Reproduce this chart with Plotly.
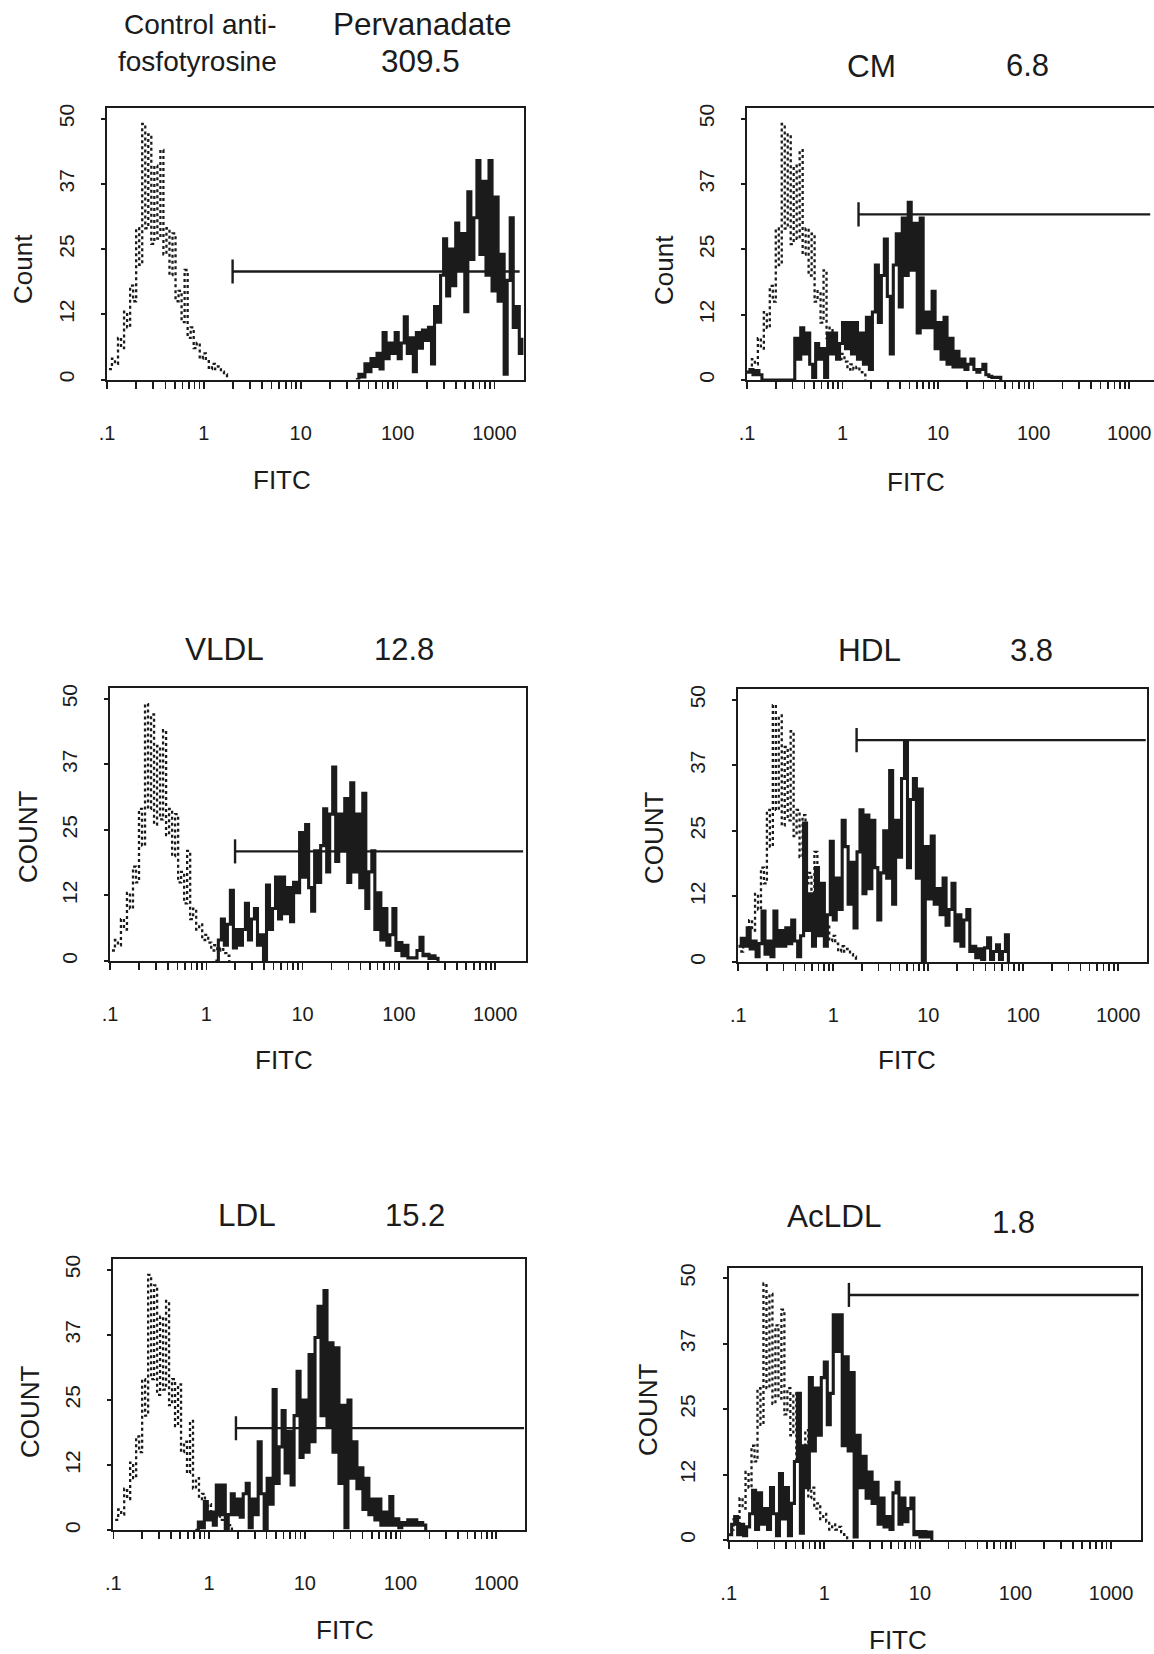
import plotly.graph_objects as go

W, H = 1154, 1654
CH = 32  # histogram channels per decade (log FITC axis)
FONT = "Liberation Sans, Arial, Helvetica, sans-serif"
INK = "#1b1b1b"

# ------------------------------------------------------------------ data
title_left = [["Control anti-", "fosfotyrosine"], ["CM"], ["VLDL"], ["HDL"], ["LDL"], ["AcLDL"]]
title_right = [["Pervanadate", "309.5"], ["6.8"], ["12.8"], ["3.8"], ["15.2"], ["1.8"]]
y_titles = ["Count", "Count", "COUNT", "COUNT", "COUNT", "COUNT"]
x_title = "FITC"

x_tick_labels = [".1", "1", "10", "100", "1000"]
y_tick_values = [0, 12.5, 25, 37.5, 50]
y_tick_labels = ["0", "12", "25", "37", "50"]

# control (dotted) histogram: first channel at 10**ctrl_start, CH channels per decade
ctrl_start = -0.98
ctrl_counts = [2, 4, 3, 8, 6, 13, 10, 18, 15, 29, 22, 49, 29, 47, 26, 41, 27, 44, 24, 29,
               20, 28, 15, 17, 11, 21, 8, 10, 6, 7, 4, 5, 3.5, 2, 3, 2, 2.5, 1.5, 1, 0]

# sample (solid) histograms
p1_start = 1.569   # Pervanadate
p1_counts = [0, 1, 0.5, 3, 1.5, 4, 2.5, 5, 2, 9, 4, 7, 5, 9, 4, 7, 12, 5, 8, 1.5, 9, 6, 9.5, 7.5,
             10, 3, 14, 11, 20, 27, 16, 25, 18, 30, 21, 28, 13, 36, 23, 31, 42, 24, 38, 20, 42,
             17, 35, 15, 24, 1, 19, 31, 10, 14, 5, 8]
p2_start = -1.0    # CM
p2_counts = [1.5, 2, 1, 1.8, 1, 0, 0, 0, 0, 0, 0, 0, 0, 0, 0, 0, 8, 4, 10, 5, 9, 3, 0.5, 7, 4, 6,
             0.5, 9, 5, 9, 4, 7, 11, 6, 11, 5, 11, 4, 9, 3, 12, 2, 13, 22, 11, 20, 27, 16, 5, 22,
             28, 14, 31, 20, 34, 21, 30, 9, 31, 10, 13, 10, 17, 6, 11, 4, 12, 3, 8, 2.5, 5.5, 2.5,
             4, 2, 3, 4, 2, 1.5, 2, 3, 1, 0.7, 0.5, 0.5, 0.5, 0]
p3_start = 0.094   # VLDL
p3_counts = [0, 4, 8, 3, 7, 13.5, 2.5, 6, 3, 6, 11, 4, 8, 10, 3, 5, 0, 14.5, 6, 10, 16, 8, 16, 9,
             14, 7.5, 15, 13, 24.5, 16, 26, 14, 9.5, 21, 15, 22, 29, 17, 28, 37, 19, 28, 21, 31,
             15, 34, 17, 28, 14, 32, 10, 17, 21, 6, 13, 4, 10, 3, 5, 10, 2, 3.5, 1, 3, 0.6, 0.6,
             0.6, 2, 4.5, 1, 1.3, 0.5, 1, 0.5, 0]
p4_start = -1.0    # HDL
p4_counts = [3, 4.5, 3, 6.5, 2.5, 4, 1, 3.5, 9.7, 1.5, 4, 1, 9.7, 3, 6, 3, 6.5, 3.5, 8, 4, 1, 5,
             26.5, 6, 13, 3, 18, 5, 15, 3, 9, 23, 8, 16, 10, 27, 22, 11, 19, 6.5, 21, 29, 13, 28,
             14, 27, 18, 8, 17, 25, 16, 36.5, 11, 27, 20, 35, 42, 18, 31, 35, 16, 33, 0, 22, 12,
             24, 11, 14, 9, 16, 7, 10, 15, 4, 9, 3, 8, 10, 2, 3, 0.8, 2.5, 0.5, 2.7, 4.6, 0.5, 2,
             3.3, 0.5, 2, 5.2, 0]
p5_start = -0.143  # LDL
p5_counts = [0, 1.6, 0.5, 5.5, 2, 3.5, 1, 8.7, 3, 8.7, 0, 3, 7, 3, 6, 2.5, 7, 9, 0.5, 6, 3, 17, 7,
             0, 10, 5, 27, 9, 16, 23, 11, 19, 8.7, 22, 30.5, 14, 25, 15, 33.7, 17, 37, 43, 22, 46,
             20, 36, 15, 35, 9, 24, 0.5, 25, 10, 17, 8, 12, 4, 10, 3, 6, 2, 6, 1, 3.5, 1, 6.5, 1,
             2.2, 0.5, 1.5, 1, 2, 1, 2, 1, 1.5, 1, 0]
p6_start = -1.0    # AcLDL
p6_counts = [1, 3, 4.5, 1, 3, 0.8, 2.5, 5, 9.5, 2, 9, 3, 6, 2, 10, 5, 0.8, 12.7, 4, 10, 0.8, 7, 15,
             28, 1.3, 18, 10, 31, 17, 29, 20, 31, 34, 22, 28, 43, 36, 43, 18, 35, 17, 32, 0.6, 20,
             10, 16, 8, 13, 7, 11, 3, 8, 2.5, 4.5, 2, 9, 11, 3, 8, 3.5, 6, 8, 1, 1.6, 0.6, 1.6,
             0.6, 1.5, 0]

sample_starts = [p1_start, p2_start, p3_start, p4_start, p5_start, p6_start]
sample_counts = [p1_counts, p2_counts, p3_counts, p4_counts, p5_counts, p6_counts]

# positive-region marker (gate): start, end (FITC), height (count)
gate_start = [1.98, 1.47, 1.99, 1.76, 1.91, 1.81]
gate_end = [1820, 1660, 1950, 1950, 1950, 1950]
gate_count = [20.7, 31.7, 20.9, 42.3, 19.6, 46.8]

# ------------------------------------------------------------------ layout geometry (pixels)
# plot boxes: left, right, top, bottom
BOXES = [(107.0, 523.5, 108.3, 379.5),
         (747.0, 1154.0, 108.3, 380.0),
         (110.0, 526.0, 688.3, 961.0),
         (738.3, 1146.7, 689.3, 962.0),
         (113.3, 525.0, 1259.3, 1530.3),
         (728.7, 1140.7, 1267.7, 1540.0)]
X_UPPER = [3.3, 3.26, 3.32, 3.3, 3.3, 3.31]
Y_UPPER = 52

LEFT_TITLE_POS = [[(200, 24), (197, 61)], [(871, 66)], [(224, 649)], [(869, 650)], [(247, 1215)], [(834, 1216)]]
RIGHT_TITLE_POS = [[(422, 24), (421, 61)], [(1027, 66)], [(404, 649)], [(1031, 650)], [(415, 1215)], [(1013, 1222)]]
LEFT_TITLE_SIZE = [28, 31.5, 31.5, 31.5, 31.5, 31.5]
RIGHT_TITLE_SIZE = [31.5, 31, 31, 31, 31, 31]
FITC_POS = [(282, 480), (916, 482), (284, 1060), (907, 1060), (345, 1630), (898, 1640)]
YT_POS = [(23, 269), (664, 270), (28, 837), (654, 838), (30, 1412), (648, 1410)]

# ------------------------------------------------------------------ figure
fig = go.Figure()

x_tickvals, x_ticktext = [], []
for k in range(-1, 4):
    for m in range(1, 10):
        v = m * 10 ** k
        if v <= 10 ** 3.3:
            x_tickvals.append(v)
            x_ticktext.append(x_tick_labels[k + 1] if m == 1 else "")

line_common = dict(hoverinfo="skip", showlegend=False, mode="lines")

for p in range(6):
    sfx = "" if p == 0 else str(p + 1)
    xa, ya = "x" + sfx, "y" + sfx

    cx = [10 ** (ctrl_start + i / CH) for i in range(len(ctrl_counts))]
    fig.add_trace(go.Scatter(x=cx, y=ctrl_counts, xaxis=xa, yaxis=ya,
                             line=dict(shape="hv", dash="dot", width=2.3, color=INK), **line_common))

    st, cnt = sample_starts[p], sample_counts[p]
    sx = [10 ** (st + i / CH) for i in range(len(cnt))]
    fig.add_trace(go.Scatter(x=sx, y=cnt, xaxis=xa, yaxis=ya,
                             line=dict(shape="hv", width=3.1, color=INK), **line_common))

    g0, g1, gy = gate_start[p], gate_end[p], gate_count[p]
    fig.add_trace(go.Scatter(x=[g0, g1], y=[gy, gy], xaxis=xa, yaxis=ya,
                             line=dict(width=2.4, color=INK), **line_common))
    fig.add_trace(go.Scatter(x=[g0, g0], y=[gy - 2.3, gy + 2.3], xaxis=xa, yaxis=ya,
                             line=dict(width=2.4, color=INK), **line_common))

layout = dict(template="none", width=W, height=H, margin=dict(l=0, r=0, t=0, b=0, pad=0),
              autosize=False, paper_bgcolor="white", plot_bgcolor="white", showlegend=False,
              font=dict(family=FONT, color=INK))

for p, (l, r, t, b) in enumerate(BOXES):
    sfx = "" if p == 0 else str(p + 1)
    layout["xaxis" + sfx] = dict(
        type="log", range=[-1, X_UPPER[p]], domain=[l / W, min(r / W, 1.0)],
        anchor="y" + sfx, showgrid=False, zeroline=False, automargin=False,
        showline=True, mirror=True, linecolor=INK, linewidth=2,
        ticks="outside", ticklen=7, tickwidth=1.6, tickcolor=INK,
        tickvals=x_tickvals, ticktext=x_ticktext, tickangle=0,
        tickfont=dict(size=20, family=FONT, color=INK), ticklabelstandoff=27)
    layout["yaxis" + sfx] = dict(
        range=[0, Y_UPPER], domain=[1 - b / H, 1 - t / H], anchor="x" + sfx,
        showgrid=False, zeroline=False, automargin=False,
        showline=True, mirror=(p != 1), linecolor=INK, linewidth=2,
        ticks="outside", ticklen=4, tickwidth=2, tickcolor=INK,
        tickvals=y_tick_values, ticktext=y_tick_labels, tickangle=-90,
        tickfont=dict(size=21, family=FONT, color=INK), ticklabelstandoff=19)

annotations = []


def add_text(txt, x, y, size, angle=0):
    annotations.append(dict(text=txt, x=x / W, y=1 - y / H, xref="paper", yref="paper",
                            xanchor="center", yanchor="middle", showarrow=False,
                            textangle=angle, font=dict(size=size, family=FONT, color=INK)))


for p in range(6):
    for txt, (x, y) in zip(title_left[p], LEFT_TITLE_POS[p]):
        add_text(txt, x, y, LEFT_TITLE_SIZE[p])
    for txt, (x, y) in zip(title_right[p], RIGHT_TITLE_POS[p]):
        add_text(txt, x, y, RIGHT_TITLE_SIZE[p])
    add_text(x_title, *FITC_POS[p], 26)
    add_text(y_titles[p], *YT_POS[p], 26, angle=-90)

layout["annotations"] = annotations
fig.update_layout(**layout)
fig.write_html("out.html", config={"displayModeBar": False, "staticPlot": True},
               post_script="document.body.style.margin='0px';document.body.style.overflow='hidden';")
